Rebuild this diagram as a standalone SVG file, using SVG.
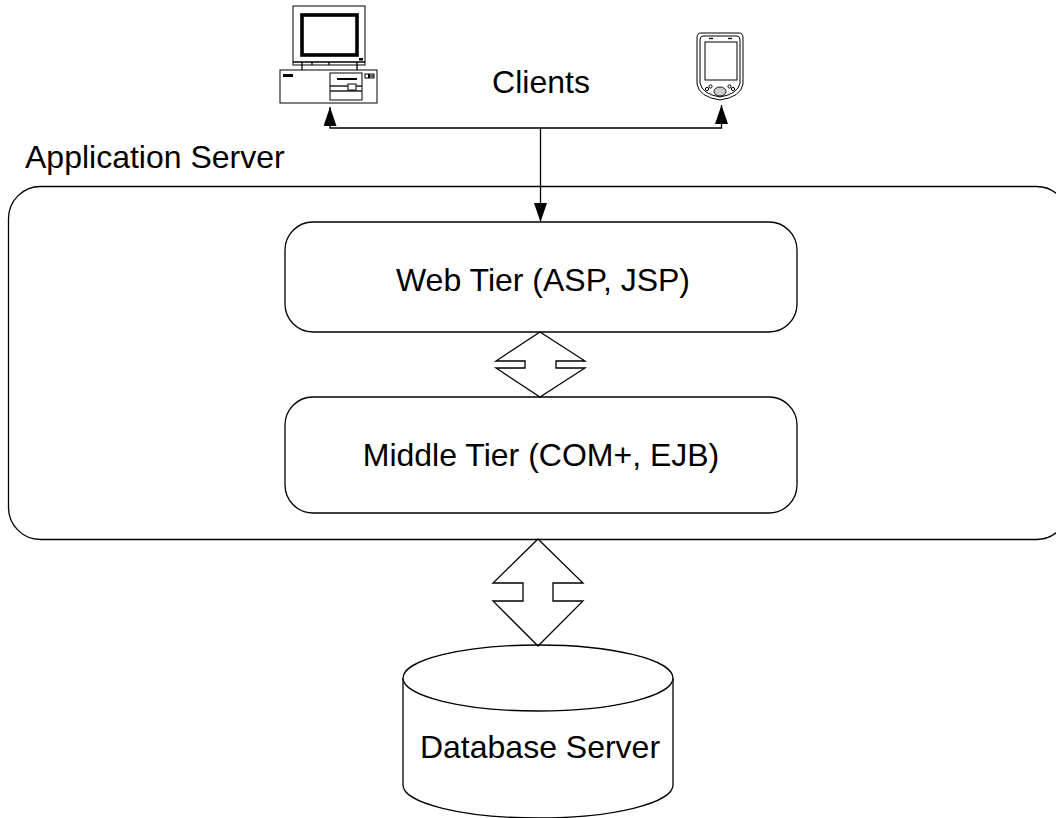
<svg xmlns="http://www.w3.org/2000/svg" width="1056" height="818" viewBox="0 0 1056 818">
<style>
.ln{fill:none;stroke:#000;stroke-width:1.3}
.box{fill:#fff;stroke:#000;stroke-width:1.3}
.lbl{font-family:"Liberation Sans",Arial,sans-serif;font-size:32px;fill:#000}
.ic{fill:#fff;stroke:#000;stroke-width:1}
.blk{fill:#000;stroke:none}
</style>
<defs>
<marker id="ah" viewBox="0 0 19 13" refX="19" refY="6.5" markerWidth="19" markerHeight="13" markerUnits="userSpaceOnUse" orient="auto-start-reverse">
<path d="M0,0 L19,6.5 L0,13 Z" fill="#000"/>
</marker>
</defs>
<rect width="1056" height="818" fill="#fff"/>

<g id="app-server">
<rect class="box" x="8.5" y="186.5" width="1060" height="353" rx="32" ry="32"/>
<text class="lbl" x="25" y="168">Application Server</text>
</g>

<g id="computer">
<rect class="ic" x="293" y="6" width="72" height="59"/>
<rect x="302" y="15" width="55" height="40" fill="#fff" stroke="#000" stroke-width="3.6"/>
<rect class="blk" x="359" y="58" width="4" height="2.5"/>
<line class="ln" x1="293" y1="62" x2="365" y2="62" stroke-width="0.8"/>
<line class="ln" x1="302" y1="62" x2="302" y2="70" stroke-width="1"/>
<line class="ln" x1="312" y1="62" x2="312" y2="65" stroke-width="1"/>
<line class="ln" x1="329" y1="62" x2="329" y2="65" stroke-width="1"/>
<line class="ln" x1="357" y1="62" x2="357" y2="70" stroke-width="1"/>
<rect class="ic" x="280" y="70" width="97" height="33"/>
<rect class="blk" x="283" y="74" width="10" height="3"/>
<rect class="ic" x="330" y="73" width="32" height="27"/>
<rect class="blk" x="337" y="78" width="20" height="2"/>
<line class="ln" x1="330" y1="86" x2="362" y2="86" stroke-width="0.8"/>
<line class="ln" x1="330" y1="91" x2="362" y2="91" stroke-width="0.8"/>
<rect class="ic" x="348" y="84" width="8" height="6" stroke-width="0.8"/>
<rect class="ic" x="365" y="74" width="3.5" height="4" stroke-width="0.8"/>
<rect class="ic" x="369.5" y="74" width="4.5" height="4" stroke-width="0.8"/>
<line class="ln" x1="369.5" y1="76" x2="374" y2="76" stroke-width="0.8"/>
</g>

<g id="pda">
<path class="ic" d="M701,33 Q697,33 697,38 L697,84 Q699,97 720,100 Q741,97 743,84 L743,38 Q743,33 739,33 Z"/>
<path class="ic" d="M703,36 Q700,36 700,40 L700,83 Q702,94 720,97 Q738,94 740,83 L740,40 Q740,36 737,36 Z"/>
<rect class="ic" x="705" y="42" width="32" height="38"/>
<line class="ln" x1="709" y1="38.5" x2="713" y2="38.5" stroke-width="1"/>
<line class="ln" x1="728" y1="38.5" x2="732" y2="38.5" stroke-width="1"/>
<ellipse cx="720" cy="91.5" rx="6" ry="4.5" fill="#ccc" stroke="#000" stroke-width="0.9"/>
<circle class="ic" cx="707" cy="89" r="1.6" stroke-width="0.8"/>
<circle class="ic" cx="710.5" cy="86.5" r="1.6" stroke-width="0.8"/>
<circle class="ic" cx="729.5" cy="86.5" r="1.6" stroke-width="0.8"/>
<circle class="ic" cx="733" cy="89" r="1.6" stroke-width="0.8"/>
</g>

<g id="clients-label">
<text class="lbl" x="541" y="93" text-anchor="middle">Clients</text>
</g>

<g id="web-tier">
<rect class="box" x="285" y="222" width="512" height="110" rx="28" ry="28"/>
<text class="lbl" x="543" y="291" text-anchor="middle">Web Tier (ASP, JSP)</text>
</g>

<g id="middle-tier">
<rect class="box" x="285" y="397" width="512" height="116" rx="28" ry="28"/>
<text class="lbl" x="541" y="466" text-anchor="middle">Middle Tier (COM+, EJB)</text>
</g>

<g id="database-server">
<path class="box" d="M403,678 L403,785 A135,33 0 0 0 673,785 L673,678"/>
<ellipse class="box" cx="538" cy="678" rx="135" ry="33"/>
<text class="lbl" x="540" y="758" text-anchor="middle">Database Server</text>
</g>

<g id="connectors">
<polyline class="ln" points="330,107 330,128 721.5,128 721.5,105" marker-start="url(#ah)" marker-end="url(#ah)"/>
<line class="ln" x1="540.5" y1="128" x2="540.5" y2="222" marker-end="url(#ah)"/>
<polygon class="ln" points="540,332 585,361 556,361 556,368 585,368 540,397 496,368 525,368 525,361 496,361"/>
<polygon class="ln" points="538,539 583,583 553,583 553,601 583,601 538,646 493,601 523,601 523,583 493,583"/>
</g>
</svg>
